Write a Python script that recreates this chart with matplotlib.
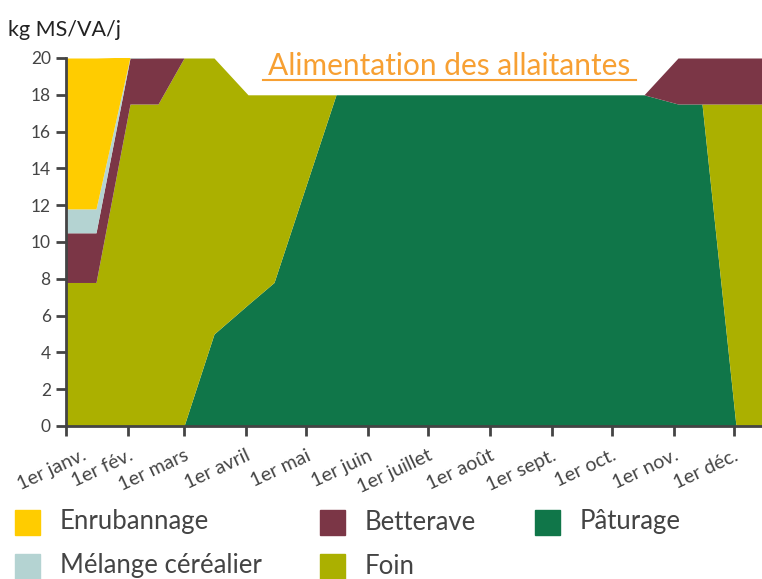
import matplotlib
matplotlib.use("Agg")
import matplotlib.pyplot as plt
from matplotlib.patches import Rectangle
from matplotlib.transforms import ScaledTranslation
import numpy as np

# === DATA (day of year, kg MS/VA/j) ===
days = [0, 15, 32, 46, 59, 74, 91, 104, 135, 289, 306, 318, 335, 348]
paturage = [0, 0, 0, 0, 0, 5.0, 6.6, 7.8, 18, 18, 17.5, 17.5, 0, 0]
foin = [7.8, 7.8, 17.5, 17.5, 20, 15.0, 11.4, 10.2, 0, 0, 0, 0, 17.5, 17.5]
betterave = [2.7, 2.7, 2.5, 2.5, 0, 0, 0, 0, 0, 0, 2.5, 2.5, 2.5, 2.5]
melange = [1.3, 1.3, 0.05, 0, 0, 0, 0, 0, 0, 0, 0, 0, 0, 0]
enrubannage = [8.2, 8.2, 0, 0, 0, 0, 0, 0, 0, 0, 0, 0, 0, 0]

month_days = [0, 31, 59, 90, 120, 151, 181, 212, 243, 273, 304, 334]
month_labels = ["1er janv.", "1er fév.", "1er mars", "1er avril", "1er mai", "1er juin",
                "1er juillet", "1er août", "1er sept.", "1er oct.", "1er nov.", "1er déc."]

# === STYLE ===
FONT = ["Lato", "DejaVu Sans"]
TEXT = "#444444"
series = [
    ("Pâturage", paturage, "#107649"),
    ("Foin", foin, "#abb000"),
    ("Betterave", betterave, "#7b3646"),
    ("Mélange céréalier", melange, "#b4d3d2"),
    ("Enrubannage", enrubannage, "#ffcc00"),
]
colors = {name: c for name, _, c in series}

plt.rcParams["font.family"] = FONT

fig = plt.figure(figsize=(7.62, 5.79), dpi=100)
ax = fig.add_axes([66 / 762, 1 - 426 / 579, 1 - 66 / 762, (426 - 58) / 579])

bottom = np.zeros(len(days))
for name, vals, col in series:
    top = bottom + np.array(vals)
    ax.fill_between(days, bottom, top, color=col, linewidth=0, zorder=1)
    bottom = top

ax.set_xlim(0, 348)
ax.set_ylim(0, 20)
ax.set_yticks(range(0, 21, 2))
ax.set_xticks(month_days)
ax.set_xticklabels(month_labels, rotation=25, ha="right", rotation_mode="anchor",
                   fontsize=14, color=TEXT)
ax.tick_params(axis="y", labelsize=12.5, colors=TEXT, length=7, width=2, pad=4)
ax.tick_params(axis="x", colors=TEXT, length=7, width=2, pad=8)
# first label sits a bit further right in the original
lab0 = ax.get_xticklabels()[0]
lab0.set_transform(lab0.get_transform() + ScaledTranslation(0.16, 0, fig.dpi_scale_trans))
for s in ["top", "right"]:
    ax.spines[s].set_visible(False)
for s in ["left", "bottom"]:
    ax.spines[s].set_color("#444444")
    ax.spines[s].set_linewidth(2)
    ax.spines[s].set_zorder(3)

fig.text(8 / 762, 1 - 30 / 579, "kg MS/VA/j", fontsize=15.5, color="#222222",
         ha="left", va="center")

# title, underlined
fig.text(449 / 762, 1 - 75 / 579, "Alimentation des allaitantes", fontsize=21.5,
         color="#f7a033", ha="center", va="baseline")
fig.add_artist(plt.Line2D([263 / 762, 636 / 762], [1 - 80 / 579, 1 - 80 / 579],
                          color="#f7a033", linewidth=1.5))

# legend
legend_items = [
    ("Enrubannage", 15, 522),
    ("Betterave", 320, 522),
    ("Pâturage", 535, 522),
    ("Mélange céréalier", 15, 566),
    ("Foin", 320, 566),
]
for name, x, y in legend_items:
    fig.add_artist(Rectangle((x / 762, 1 - (y + 13) / 579), 25 / 762, 25 / 579,
                             color=colors[name], transform=fig.transFigure))
    fig.text((x + 45) / 762, 1 - y / 579, name, fontsize=18.5, color=TEXT,
             ha="left", va="center")

fig.savefig("out.png", dpi=100)
